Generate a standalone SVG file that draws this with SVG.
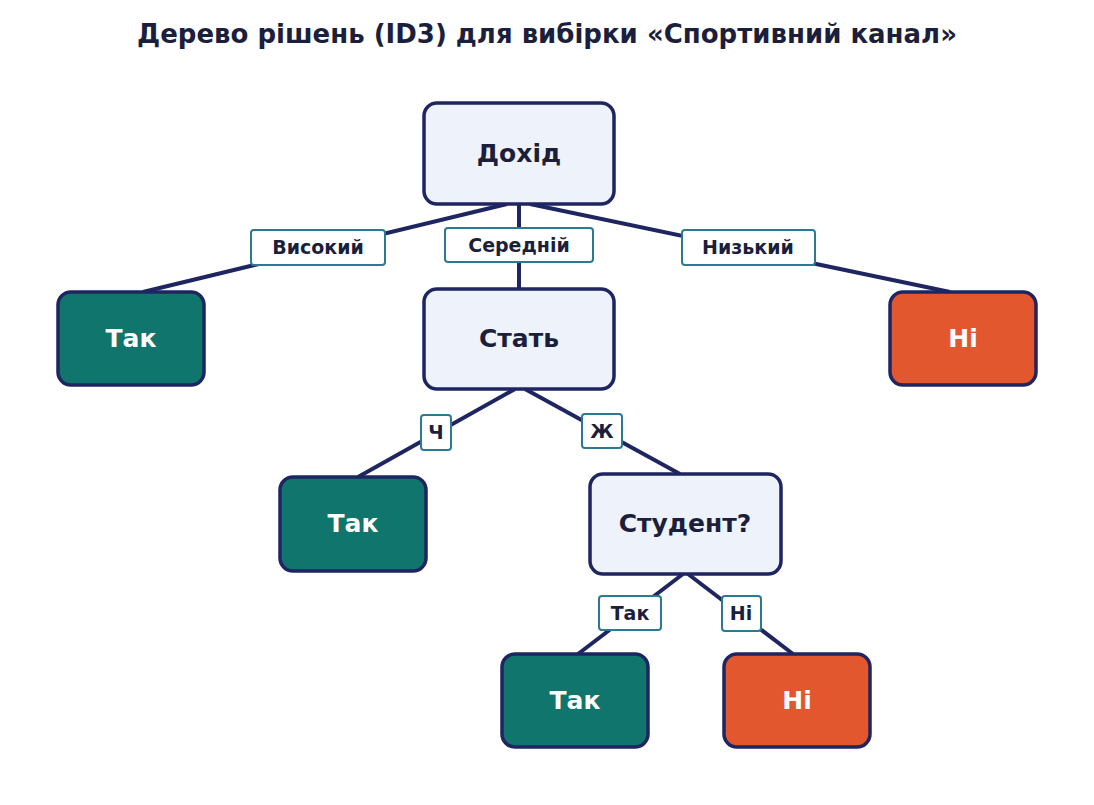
<svg xmlns="http://www.w3.org/2000/svg" width="1094" height="805" viewBox="0 0 1094 805">
<style>
text{font-family:"DejaVu Sans","Liberation Sans",sans-serif;font-weight:bold;text-anchor:middle;dominant-baseline:central}
.n rect{stroke:#1f2561;stroke-width:3.5}
.d rect{fill:#eef2fa}.d text{fill:#1b1f3b;font-size:25px}
.y rect{fill:#10756c}.y text{fill:#fff;font-size:25px}
.r rect{fill:#e3572f}.r text{fill:#fff;font-size:25px}
.e line{stroke:#1f2561;stroke-width:4}
.l rect{fill:#fff;stroke:#2a7a94;stroke-width:2}.l text{fill:#1b1f3b;font-size:19px}
</style>
<rect width="1094" height="805" fill="#fff"/>
<text x="547" y="34" style="font-size:26px;fill:#1b1f3b">Дерево рішень (ID3) для вибірки «Спортивний канал»</text>
<g id="edges" class="e">
<line x1="507" y1="204" x2="143" y2="292"/>
<line x1="519" y1="204" x2="519" y2="289"/>
<line x1="530" y1="204" x2="950" y2="292"/>
<line x1="515" y1="389" x2="358" y2="477"/>
<line x1="525" y1="389" x2="680" y2="474"/>
<line x1="683" y1="574" x2="578" y2="654"/>
<line x1="688" y1="574" x2="793" y2="654"/>
</g>
<g id="labels" class="l">
<rect x="251" y="230" width="134" height="35" rx="3"/><text x="318" y="247">Високий</text>
<rect x="445" y="228" width="148" height="34" rx="3"/><text x="519" y="245">Середній</text>
<rect x="682" y="230" width="133" height="35" rx="3"/><text x="748" y="247">Низький</text>
<rect x="421" y="415" width="30" height="35" rx="3"/><text x="436" y="432">Ч</text>
<rect x="582" y="414" width="40" height="34" rx="3"/><text x="602" y="431">Ж</text>
<rect x="599" y="596" width="62" height="34" rx="3"/><text x="630" y="613">Так</text>
<rect x="722" y="596" width="39" height="35" rx="3"/><text x="741" y="613">Ні</text>
</g>
<g id="n1" class="n d"><rect x="424" y="103" width="190" height="101" rx="13"/><text x="519" y="153">Дохід</text></g>
<g id="n2" class="n y"><rect x="58" y="292" width="146" height="93" rx="13"/><text x="131" y="338">Так</text></g>
<g id="n3" class="n d"><rect x="424" y="289" width="190" height="100" rx="13"/><text x="519" y="338">Стать</text></g>
<g id="n4" class="n r"><rect x="890" y="292" width="146" height="93" rx="13"/><text x="963" y="338">Ні</text></g>
<g id="n5" class="n y"><rect x="280" y="477" width="146" height="94" rx="13"/><text x="353" y="523">Так</text></g>
<g id="n6" class="n d"><rect x="590" y="474" width="191" height="100" rx="13"/><text x="685" y="523">Студент?</text></g>
<g id="n7" class="n y"><rect x="502" y="654" width="146" height="93" rx="13"/><text x="575" y="700">Так</text></g>
<g id="n8" class="n r"><rect x="724" y="654" width="146" height="93" rx="13"/><text x="797" y="700">Ні</text></g>
</svg>
